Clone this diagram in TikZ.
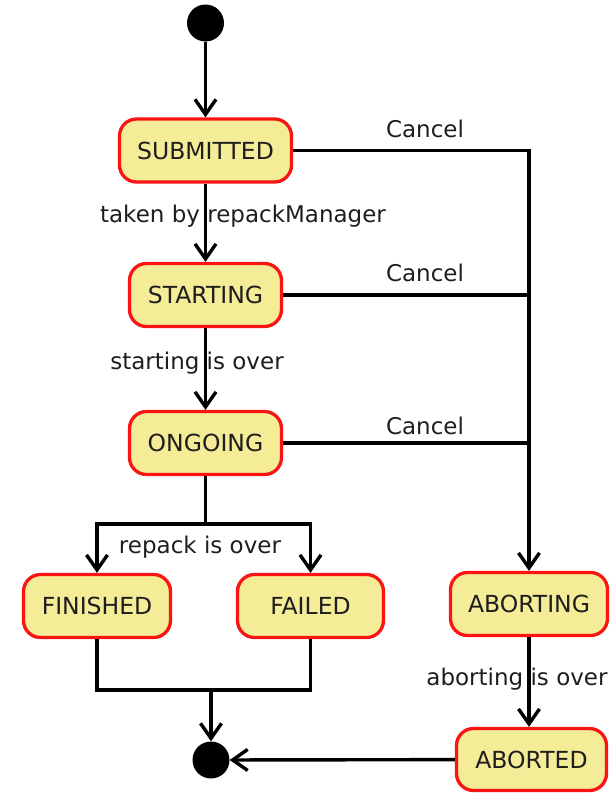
\documentclass[tikz,border=0pt]{standalone}
\usepackage{fontspec}
\setmainfont{DejaVu Sans}
\usetikzlibrary{arrows.meta}
\definecolor{stateyellow}{RGB}{244,236,150}
\definecolor{stateborder}{RGB}{250,20,20}
\definecolor{inktext}{RGB}{30,30,30}
\begin{document}
\begin{tikzpicture}[x=1pt,y=-1pt,
  state/.style={draw=stateborder, line width=3.3pt, fill=stateyellow,
    rounded corners=17pt, minimum height=63pt, inner sep=0pt,
    font=\fontsize{23.5}{27}\selectfont, text=inktext},
  flow/.style={line width=3.4pt, draw=black},
  arr/.style={flow, -{Straight Barb[length=15pt,width=21pt,line width=3.4pt]}},
  lbl/.style={font=\fontsize{23}{26}\selectfont, text=inktext, inner sep=0pt},
  dot/.style={circle, fill=black, minimum size=37pt, inner sep=0pt}]
\useasboundingbox (0,0) rectangle (615,793);

% states
\node[dot] (init) at (205.5,23) {};
\node[state, minimum width=172pt] (sub) at (205.5,150.5) {SUBMITTED};
\node[state, minimum width=152pt] (sta) at (205.5,295) {STARTING};
\node[state, minimum width=152pt] (ong) at (205.5,443) {ONGOING};
\node[state, minimum width=147pt] (fin) at (97,606) {FINISHED};
\node[state, minimum width=146pt] (fai) at (310.5,606) {FAILED};
\node[state, minimum width=157pt] (abg) at (529,604) {ABORTING};
\node[state, minimum width=150pt, minimum height=62pt] (abd) at (531.5,759.5) {ABORTED};
\node[dot] (final) at (211,760) {};

% transition labels
\node[lbl] (ltaken) at (243,216) {taken by repackManager};
\node[lbl] (lstart) at (197,363) {starting is over};
\node[lbl] (lrepack) at (200,547) {repack is over};
\node[lbl] (lc1) at (425,129) {Cancel};
\node[lbl] (lc2) at (425,273) {Cancel};
\node[lbl] (lc3) at (425,426) {Cancel};
\node[lbl] (labort) at (517,679) {aborting is over};

% main flow
\draw[arr] (init) -- (sub);
\draw[arr] (sub) -- (sta);
\draw[arr] (sta) -- (ong);
\coordinate (split) at (205.5,524);
\draw[flow] (ong) -- (split);
\draw[arr] (split) -| (fin);
\draw[arr] (split) -| (fai);
\coordinate (join) at (211,690);
\draw[flow] (fin) |- (join);
\draw[flow] (fai) |- (join);
\draw[arr] (join) -- (final);

% cancel paths
\draw[arr] (sub) -| (abg);
\draw[flow] (sta) -- (sta -| abg);
\draw[flow] (ong) -- (ong -| abg);

% abort flow
\draw[arr] (abg) -- (abg |- abd.north);
\draw[arr] (abd) -- (final);
\end{tikzpicture}
\end{document}
